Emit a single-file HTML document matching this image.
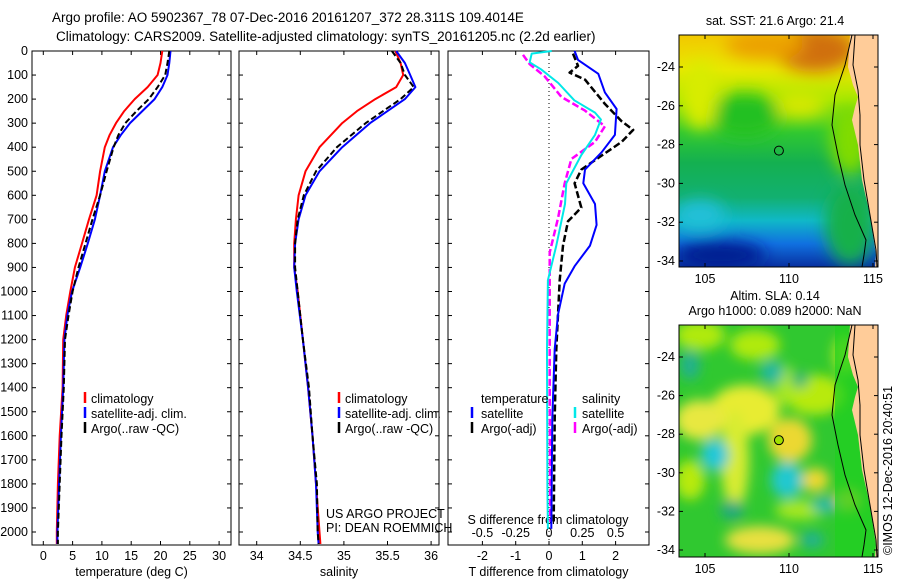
<!DOCTYPE html>
<html><head><meta charset="utf-8"><style>
html,body{margin:0;padding:0;background:#fff;width:900px;height:580px;overflow:hidden}
svg{display:block;font-family:"Liberation Sans",sans-serif;font-size:12.5px}
</style></head><body>
<svg id="fig" width="900" height="580" viewBox="0 0 900 580">
<defs>
<filter id="bl" x="-50%" y="-50%" width="200%" height="200%"><feGaussianBlur stdDeviation="8"/></filter>
<filter id="bl2" x="-50%" y="-50%" width="200%" height="200%"><feGaussianBlur stdDeviation="6"/></filter>
<linearGradient id="sst" x1="0" y1="0" x2="0" y2="1">
<stop offset="0" stop-color="#f2c800"/><stop offset="0.15" stop-color="#e8e800"/><stop offset="0.28" stop-color="#a8e800"/>
<stop offset="0.42" stop-color="#30c830"/><stop offset="0.55" stop-color="#14b050"/><stop offset="0.7" stop-color="#12b070"/>
<stop offset="0.8" stop-color="#10b8c8"/><stop offset="0.9" stop-color="#1070e0"/><stop offset="1" stop-color="#0830a0"/></linearGradient>
<clipPath id="c1"><rect x="679" y="35" width="199" height="232"/></clipPath>
<clipPath id="c2"><rect x="679" y="325" width="199" height="232"/></clipPath>
</defs>
<text x="52" y="22" font-size="13.5">Argo profile: AO 5902367_78 07-Dec-2016 20161207_372 28.311S 109.4014E</text>
<text x="56" y="41" font-size="13.5">Climatology: CARS2009. Satellite-adjusted climatology: synTS_20161205.nc (2.2d earlier)</text>
<g id="plots"></g>
<g id="maps"></g>
</svg>
<script>
// ---------- data ----------
const depthT = [0,50,100,150,200,250,300,350,400,500,600,700,800,900,1000,1100,1200,1400,1600,1800,2000,2050];
const tempClim = [20.3,20.0,19.5,17.8,15.6,13.8,12.4,11.3,10.5,9.7,9.1,7.8,6.6,5.4,4.6,3.9,3.4,3.3,2.8,2.5,2.3,2.3];
const tempSat = [21.7,21.5,21.2,20.3,19.0,16.9,14.8,13.2,11.9,10.5,9.7,8.8,7.6,6.3,4.9,4.1,3.6,3.4,3.0,2.7,2.4,2.4];
const tempArgo = [21.5,21.2,20.8,19.5,18.0,15.9,14.0,12.8,12.0,10.8,9.7,8.4,7.2,6.0,5.0,4.3,3.7,3.5,3.1,2.8,2.5,2.5];
const depthS = [0,50,100,150,200,250,300,400,500,600,700,800,900,1000,1200,1400,1600,1800,2000,2050];
const salClim = [35.59,35.65,35.68,35.6,35.36,35.15,34.98,34.72,34.56,34.48,34.45,34.43,34.43,34.47,34.53,34.59,34.64,34.68,34.72,34.73];
const salSat = [35.6,35.7,35.76,35.82,35.7,35.5,35.3,34.98,34.72,34.56,34.48,34.44,34.43,34.46,34.53,34.59,34.64,34.68,34.7,34.71];
const salArgo = [35.55,35.65,35.7,35.8,35.65,35.45,35.25,34.92,34.68,34.54,34.47,34.44,34.44,34.47,34.53,34.6,34.64,34.69,34.7,34.71];
const dTsatDepth = [0,37,95,172,241,349,421,493,550,636,723,809,895,967,1096,1240,1527,1987];
const dTsat = [0.77,0.87,1.48,1.68,2.03,1.98,1.58,1.08,1.03,1.38,1.43,1.23,0.77,0.47,0.27,0.17,0.10,0.07];
const dTargoDepth = [11,62,90,119,220,292,328,378,435,493,550,651,708,809,953,1240,1527,1958];
const dTargo = [0.72,0.87,0.62,1.08,1.68,2.18,2.53,2.18,1.58,0.97,0.77,0.97,0.57,0.42,0.32,0.22,0.17,0.14];
const dSsatDepth = [0,11,47,76,133,205,256,285,349,435,550,636,809,953,1240,1815,1987];
const dSsat = [0.02,-0.13,-0.145,-0.06,0.07,0.19,0.345,0.39,0.345,0.24,0.13,0.12,0.055,-0.008,-0.015,-0.012,-0.008];
const dSargoDepth = [16,55,105,191,248,313,378,449,550,694,838,1096,1383,1958];
const dSargo = [-0.195,-0.145,-0.033,0.093,0.27,0.42,0.345,0.168,0.118,0.068,0.005,0.005,0.005,0.01];
const depthTicks = [0,100,200,300,400,500,600,700,800,900,1000,1100,1200,1300,1400,1500,1600,1700,1800,1900,2000];
const tempTicks = [0,5,10,15,20,25,30];
const salTicks = [34,34.5,35,35.5,36];
const tdTicks = [-2,-1,0,1,2];
const sdTicks = [-0.5,-0.25,0,0.25,0.5];
const sdTickLabels = ["-0.5","-0.25","0","0.25","0.5"];
const lonTicks = [105,110,115];
const latTicks = [-24,-26,-28,-30,-32,-34];
const argoLon = 109.4, argoLat = -28.31;

// ---------- axes ----------
const NS="http://www.w3.org/2000/svg";
const top0=51, bot=545;
const yD = d => 51 + d*0.2405;
const xT = t => 43.3 + t*5.86;
const xS = s => 256.7 + (s-34)*87.2;
const xTd = t => 549 + t*33.3;
const xSd = s => 549 + s*133.2;
const xLon = l => 705 + (l-105)*16.8;
const yLat1 = a => 67 + (-24-a)*19.4;
const yLat2 = a => 357 + (-24-a)*19.3;

function mk(tag, attrs, parent){const e=document.createElementNS(NS,tag);for(const k in attrs)e.setAttribute(k,attrs[k]);parent.appendChild(e);return e;}
const P=document.getElementById('plots');

function frame(x0,x1,name){
  const r=mk('rect',{x:x0,y:top0,width:x1-x0,height:bot-top0,fill:'none',stroke:'#000','stroke-width':1},P);
  
  
  depthTicks.forEach(d=>{const y=yD(d);
    mk('line',{x1:x0,x2:x0+4,y1:y,y2:y,stroke:'#000'},P);
    mk('line',{x1:x1,x2:x1-4,y1:y,y2:y,stroke:'#000'},P);});
}
function xticks(vals,labels,fx,x0,x1,name,label){
  vals.forEach((v,i)=>{const x=fx(v);
    mk('line',{x1:x,x2:x,y1:bot,y2:bot-4,stroke:'#000'},P);
    mk('line',{x1:x,x2:x,y1:top0,y2:top0+4,stroke:'#000'},P);
    const t=mk('text',{x:x,y:bot+15,'text-anchor':'middle'},P);t.textContent=labels[i];
    
    });
  const t=mk('text',{x:(x0+x1)/2,y:576,'text-anchor':'middle'},P);t.textContent=label;
  
  
}
function line(xs,ds,fx,color,dash,name,w){
  const pts=xs.map((v,i)=>fx(v).toFixed(1)+','+yD(ds[i]).toFixed(1)).join(' ');
  const a={points:pts,fill:'none',stroke:color,'stroke-width':w||2,'stroke-linejoin':'round'};
  if(dash)a['stroke-dasharray']=dash;
  const p=mk('polyline',a,P);
  
  
}
function txt(x,y,s,name,anchor){const t=mk('text',{x:x,y:y},P);if(anchor)t.setAttribute('text-anchor',anchor);t.textContent=s;
  
  return t;}
function marker(x,y,color){mk('line',{x1:x,x2:x,y1:y-11,y2:y,stroke:color,'stroke-width':2.5},P);}

frame(32,231,'temperature-panel');
frame(239,439,'salinity-panel');
frame(448,649,'difference-panel');
depthTicks.forEach(d=>{txt(28,yD(d)+4,String(d),'depth-tick-label','end');});

xticks(tempTicks,tempTicks.map(String),xT,32,231,'temperature','temperature (deg C)');
xticks(salTicks,salTicks.map(String),xS,239,439,'salinity','salinity');
xticks(tdTicks,tdTicks.map(String),xTd,448,649,'t-difference','T difference from climatology');
sdTicks.forEach((v,i)=>{txt(xSd(v),537,sdTickLabels[i],'s-difference-tick-label','middle');});
txt(548,524,'S difference from climatology','s-difference-axis-title','middle');
mk('line',{x1:xTd(0),x2:xTd(0),y1:top0,y2:bot,stroke:'#000','stroke-dasharray':'1,3'},P);

line(tempClim,depthT,xT,'#ff0000',null,'temp-climatology-line');
line(tempSat,depthT,xT,'#0000ff',null,'temp-satellite-line');
line(tempArgo,depthT,xT,'#000',"6,3",'temp-argo-line');
line(salClim,depthS,xS,'#ff0000',null,'sal-climatology-line');
line(salSat,depthS,xS,'#0000ff',null,'sal-satellite-line');
line(salArgo,depthS,xS,'#000',"6,3",'sal-argo-line');
line(dSargo,dSargoDepth,xSd,'#ff00ff',"7,3",'s-diff-argo-line',2.5);
line(dSsat,dSsatDepth,xSd,'#00e8e8',null,'s-diff-satellite-line');
line(dTargo,dTargoDepth,xTd,'#000',"7,3",'t-diff-argo-line',2.5);
line(dTsat,dTsatDepth,xTd,'#0000ff',null,'t-diff-satellite-line');

[[ '#ff0000','climatology'],['#0000ff','satellite-adj. clim.'],['#000','Argo(..raw -QC)']].forEach((e,i)=>{
  marker(85,403+i*15,e[0]); txt(91,403+i*15,e[1],'temp-legend-entry');
  marker(339,403+i*15,e[0]); txt(345,403+i*15,e[1],'sal-legend-entry');});
txt(481,403,'temperature','diff-legend-temperature-header');
txt(582,403,'salinity','diff-legend-salinity-header');
marker(472,418,'#0000ff'); txt(481,418,'satellite','diff-legend-t-satellite');
marker(472,433,'#000'); txt(481,433,'Argo(-adj)','diff-legend-t-argo');
marker(575,418,'#00e8e8'); txt(582,418,'satellite','diff-legend-s-satellite');
marker(575,433,'#ff00ff'); txt(582,433,'Argo(-adj)','diff-legend-s-argo');
txt(326,518,'US ARGO PROJECT','project-credit');
txt(326,532,'PI: DEAN ROEMMICH','pi-credit');

// ---------- maps ----------
const M=document.getElementById('maps');
function land(g,y0){
  const pts=[[850,0],[848,32],[853,50],[858,62],[855,72],[852,85],[858,110],[862,145],[870,180],[876,220],[875,232]];
  const s=pts.map(p=>p[0]+','+(y0+p[1])).join(' ')+' 880,'+(y0+232)+' 880,'+y0;
  mk('polygon',{points:s,fill:'#ffcc99'},g);
}
function coast(g,y0){
  const a=[[852,0],[845,30],[835,60],[832,90],[838,120],[845,150],[855,180],[866,205],[864,220],[862,232]];
  const b=[[855,0],[853,30],[858,55],[860,80],[860,110],[864,145],[870,180],[876,215],[877,232]];
  mk('polyline',{points:a.map(p=>p[0]+','+(y0+p[1])).join(' '),fill:'none',stroke:'#000','stroke-width':1},g);
  mk('polyline',{points:b.map(p=>p[0]+','+(y0+p[1])).join(' '),fill:'none',stroke:'#000','stroke-width':1},g);
}
function mapAxes(y0,fy,title){
  const r=mk('rect',{x:679,y:y0,width:199,height:232,fill:'none',stroke:'#000'},M);
  
  
  latTicks.forEach(a=>{const y=fy(a);
    mk('line',{x1:679,x2:683,y1:y,y2:y,stroke:'#000'},M);mk('line',{x1:878,x2:874,y1:y,y2:y,stroke:'#000'},M);
    const t=mk('text',{x:675,y:y+4,'text-anchor':'end'},M);t.textContent=String(a);
    
    });
  lonTicks.forEach(l=>{const x=xLon(l);
    mk('line',{x1:x,x2:x,y1:y0+232,y2:y0+228,stroke:'#000'},M);mk('line',{x1:x,x2:x,y1:y0,y2:y0+4,stroke:'#000'},M);
    const t=mk('text',{x:x,y:y0+248,'text-anchor':'middle'},M);t.textContent=String(l);
    
    });
}
let g1=mk('g',{'clip-path':'url(#c1)'},M);


mk('rect',{x:679,y:35,width:199,height:232,fill:'url(#sst)'},g1);
const b1=mk('g',{filter:'url(#bl)'},g1);
[[815,50,40,22,'#d0700c'],[765,45,40,14,'#eca000'],[745,115,35,22,'#22c022'],[700,95,18,35,'#d8ec00'],
 [800,105,25,12,'#d8e800'],[720,255,45,14,'#001a90'],[850,225,25,40,'#18b048'],[850,140,20,35,'#80dc00'],
 [700,215,25,15,'#20c0d8']].forEach(e=>mk('ellipse',{cx:e[0],cy:e[1],rx:e[2],ry:e[3],fill:e[4]},b1));
land(g1,35); coast(g1,35);
mk('circle',{cx:xLon(argoLon),cy:yLat1(argoLat),r:4.5,fill:'none',stroke:'#000'},g1);
mapAxes(35,yLat1,'sst-map-frame');

let g2=mk('g',{'clip-path':'url(#c2)'},M);


mk('rect',{x:679,y:325,width:199,height:232,fill:'#30c830'},g2);
const b2=mk('g',{filter:'url(#bl2)'},g2);
[[700,335,25,15,'#b0ea10'],[755,345,25,15,'#b0ea10'],[815,395,30,20,'#b8ea10'],[745,410,35,25,'#e8ec30'],
 [700,420,25,20,'#e8e840'],[735,460,14,50,'#d8ec30'],[790,440,22,22,'#ecd830'],[815,480,14,12,'#f0d830'],
 [848,500,14,12,'#f0d030'],[760,540,35,14,'#e8e040'],[690,480,15,20,'#b8ea10'],[800,510,25,10,'#a8e820'],
 [785,385,10,20,'#a8e820'],[845,355,12,20,'#a8e820']].forEach(e=>mk('ellipse',{cx:e[0],cy:e[1],rx:e[2],ry:e[3],fill:e[4]},b2));
[[772,372,12,12,'#20b8a0'],[715,455,14,16,'#20c8d8'],[787,480,16,18,'#20c8d0'],[825,505,14,8,'#20b8a8'],
 [690,365,10,15,'#20b090'],[732,510,12,10,'#20a880'],[812,540,12,8,'#20b098'],[800,380,8,8,'#20b080']].forEach(e=>mk('ellipse',{cx:e[0],cy:e[1],rx:e[2],ry:e[3],fill:e[4]},b2));
mk('rect',{x:835,y:325,width:45,height:232,fill:'#20d020',opacity:0.7},g2);
land(g2,325); coast(g2,325);
mk('circle',{cx:xLon(argoLon),cy:yLat2(argoLat),r:4.5,fill:'#a0e000',stroke:'#000'},g2);
mapAxes(325,yLat2,'sla-map-frame');
[[775,25,'sst-map-title','sat. SST: 21.6 Argo: 21.4'],[775,300,'sla-map-title','Altim. SLA: 0.14'],[775,315,'sla-map-subtitle','Argo h1000: 0.089 h2000: NaN']].forEach(a=>{
  const t=mk('text',{x:a[0],y:a[1],'text-anchor':'middle'},M);t.textContent=a[3];
  
  });
const ts=mk('text',{x:0,y:0,transform:'translate(892,555) rotate(-90)'},M);ts.textContent='©IMOS 12-Dec-2016 20:40:51';


</script>
</body></html>
